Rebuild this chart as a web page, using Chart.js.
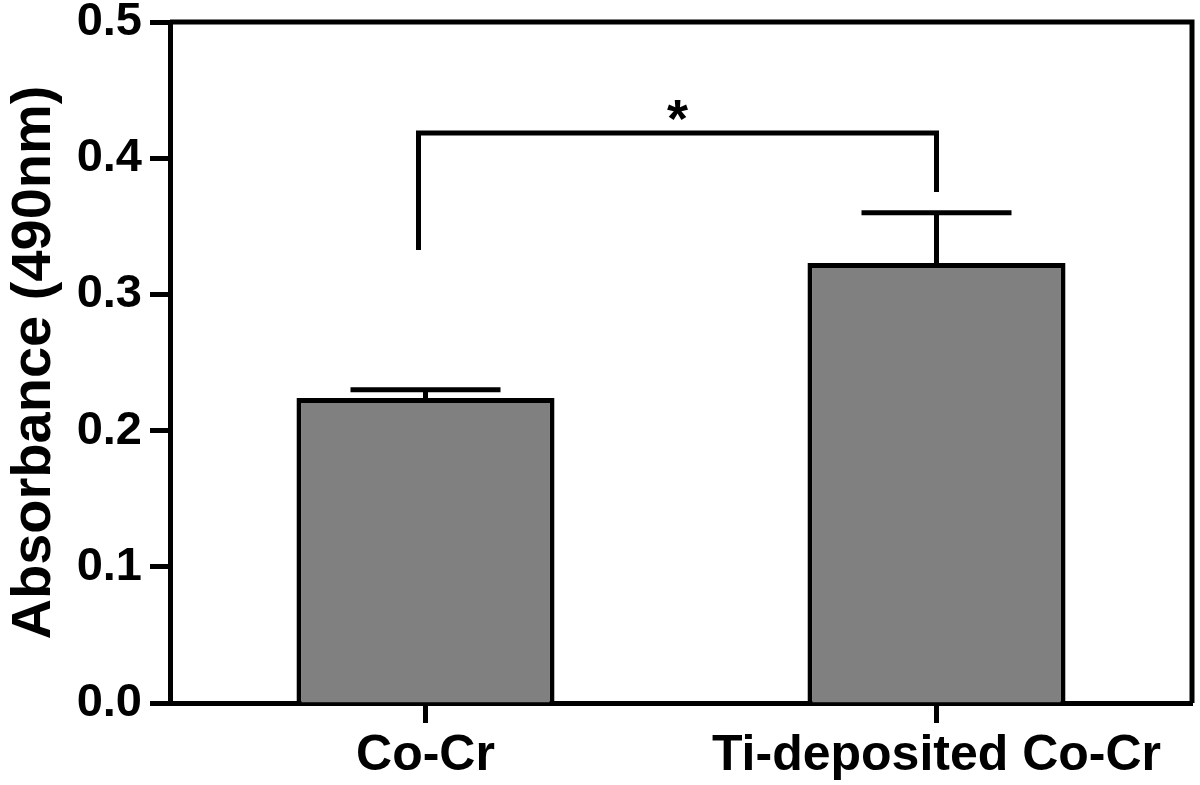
<!DOCTYPE html>
<html>
<head>
<meta charset="utf-8">
<script src="https://cdn.jsdelivr.net/npm/chart.js@4/dist/chart.umd.min.js"></script>
<style>
  html, body { margin: 0; padding: 0; background: #fff; }
  #wrap { width: 1200px; height: 785px; }
</style>
</head>
<body>
<div id="wrap"><canvas id="c" width="1200" height="785"></canvas></div>
<script>
const categories = ['Co-Cr', 'Ti-deposited Co-Cr'];
const means = [0.224, 0.323];
const errors = [0.006, 0.037];
const yTicks = [0.0, 0.1, 0.2, 0.3, 0.4, 0.5];
const yTitle = 'Absorbance (490nm)';
const bracketLevel = 0.4185;
const bracketEnds = [0.3326, 0.3752];
const bracketLabel = '*';

const FONT = "'Liberation Sans', Arial, sans-serif";

const extras = {
  id: 'extras',
  afterDatasetsDraw(chart) {
    const ctx = chart.ctx;
    const x = chart.scales.x, y = chart.scales.y;
    const area = chart.chartArea;
    ctx.save();
    ctx.strokeStyle = '#000';
    ctx.lineWidth = 5;
    ctx.lineCap = 'butt';
    // frame: top and right
    ctx.beginPath();
    ctx.moveTo(area.left, area.top);
    ctx.lineTo(area.right, area.top);
    ctx.lineTo(area.right, area.bottom);
    ctx.stroke();
    // error bars
    const meta = chart.getDatasetMeta(0);
    means.forEach((m, i) => {
      const cx = meta.data[i].x;
      const yTop = y.getPixelForValue(m);
      const yErr = y.getPixelForValue(m + errors[i]);
      ctx.beginPath();
      ctx.moveTo(cx, yTop);
      ctx.lineTo(cx, yErr);
      ctx.moveTo(cx - 75, yErr);
      ctx.lineTo(cx + 75, yErr);
      ctx.stroke();
    });
    // significance bracket
    const x0 = x.getPixelForValue(0) - 7;
    const x1 = x.getPixelForValue(1);
    const yb = y.getPixelForValue(bracketLevel);
    ctx.beginPath();
    ctx.moveTo(x0, y.getPixelForValue(bracketEnds[0]));
    ctx.lineTo(x0, yb);
    ctx.lineTo(x1, yb);
    ctx.lineTo(x1, y.getPixelForValue(bracketEnds[1]));
    ctx.stroke();
    ctx.fillStyle = '#000';
    ctx.font = 'bold 54px ' + FONT;
    ctx.textAlign = 'center';
    ctx.textBaseline = 'alphabetic';
    ctx.fillText(bracketLabel, (x0 + x1) / 2, yb + 4);
    ctx.restore();
  }
};

new Chart(document.getElementById('c'), {
  type: 'bar',
  data: {
    labels: categories,
    datasets: [{
      data: means,
      backgroundColor: '#808080',
      borderColor: '#000',
      borderWidth: 5,
      borderSkipped: 'start',
      barPercentage: 1.0,
      categoryPercentage: 0.505
    }]
  },
  options: {
    responsive: false,
    animation: false,
    events: [],
    layout: { padding: { top: 22, right: 8, bottom: 0, left: 0 } },
    plugins: { legend: { display: false }, tooltip: { enabled: false } },
    scales: {
      x: {
        offset: true,
        grid: { display: true, offset: false, drawOnChartArea: false, drawTicks: true, tickLength: 20, tickWidth: 5, tickColor: '#000' },
        border: { display: true, color: '#000', width: 5 },
        ticks: { color: '#000', font: { family: FONT, size: 50, weight: 'bold' }, padding: 3, maxRotation: 0, autoSkip: false },
        afterFit(s) { s.height = 82; s.paddingLeft = 0; s.paddingRight = 0; }
      },
      y: {
        min: 0, max: 0.5,
        afterBuildTicks(s) { s.ticks = yTicks.map(v => ({ value: v })); },
        grid: { display: true, drawOnChartArea: false, drawTicks: true, tickLength: 20, tickWidth: 5, tickColor: '#000' },
        border: { display: true, color: '#000', width: 5 },
        ticks: { color: '#000', font: { family: FONT, size: 47, weight: 'bold' }, padding: 8, callback: v => Number(v).toFixed(1) },
        title: { display: true, text: yTitle, color: '#000', font: { family: FONT, size: 56, weight: 'bold' }, padding: { top: 1, bottom: 0 } },
        afterFit(s) { s.width = 170; s.paddingTop = 0; s.paddingBottom = 0; }
      }
    }
  },
  plugins: [extras]
});
</script>
</body>
</html>
